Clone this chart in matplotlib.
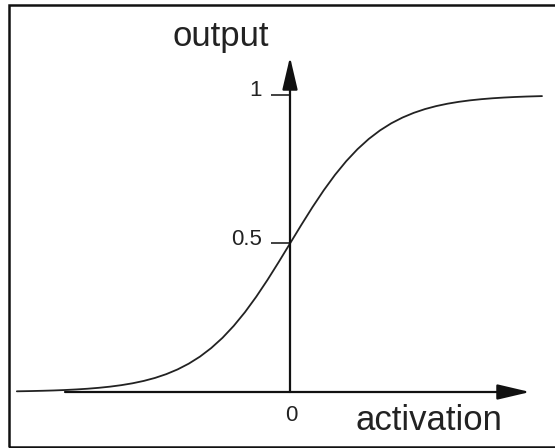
import matplotlib
matplotlib.use("Agg")
import matplotlib.pyplot as plt
from matplotlib.patches import Rectangle

# ---- data ----
activation = [-6.07, -5.75, -5.5, -5.25, -5.0, -4.75, -4.5, -4.25, -4.0, -3.75, -3.5, -3.25,
              -3.0, -2.75, -2.5, -2.25, -2.0, -1.75, -1.5, -1.25, -1.0, -0.75, -0.5, -0.25,
              0.0, 0.25, 0.5, 0.75, 1.0, 1.25, 1.5, 1.75, 2.0, 2.25, 2.5, 2.75,
              3.0, 3.25, 3.5, 3.75, 4.0, 4.25, 4.5, 4.75, 5.0, 5.25, 5.5, 5.6]
output = [0.0023, 0.0032, 0.0041, 0.0052, 0.0067, 0.0086, 0.0110, 0.0141, 0.0180, 0.0230,
          0.0293, 0.0373, 0.0474, 0.0601, 0.0759, 0.0954, 0.1192, 0.1481, 0.1824, 0.2227,
          0.2689, 0.3208, 0.3775, 0.4378, 0.5000, 0.5622, 0.6225, 0.6792, 0.7311, 0.7773,
          0.8176, 0.8520, 0.8808, 0.9047, 0.9241, 0.9399, 0.9526, 0.9627, 0.9707, 0.9770,
          0.9820, 0.9859, 0.9890, 0.9914, 0.9933, 0.9948, 0.9959, 0.9963]
y_ticks = [1, 0.5]
y_tick_labels = ["1", "0.5"]
x_tick_label = "0"
x_title = "activation"
y_title = "output"

# ---- layout ----
W, H = 555, 448
DPI = 100
X0_PX, Y0_PX = 290, 392   # pixel of origin
SX, SY = 45.0, 297.0      # pixels per unit

fig = plt.figure(figsize=(W / DPI, H / DPI), dpi=DPI)
ax = fig.add_axes([0, 0, 1, 1])
ax.set_xlim(-X0_PX / SX, (W - X0_PX) / SX)
ax.set_ylim((Y0_PX - H) / SY, Y0_PX / SY)
ax.axis("off")

plt.rcParams["font.family"] = ["Liberation Sans", "DejaVu Sans"]

def px2x(px):
    return (px - X0_PX) / SX

def px2y(py):
    return (Y0_PX - py) / SY

# border
fig.patches.append(Rectangle((9 / W, 1 / H), (W + 5 - 9) / W, (447 - 5) / H,
                             transform=fig.transFigure, fill=False,
                             edgecolor="#111111", linewidth=1.8))

# axes arrows
arrow_style = "-|>,head_length=20,head_width=4.7"
ax.annotate("", xy=(px2x(530), 0), xytext=(px2x(65), 0),
            arrowprops=dict(arrowstyle=arrow_style, lw=1.6, color="#111111",
                            shrinkA=0, shrinkB=0, mutation_scale=1))
ax.annotate("", xy=(0, px2y(57)), xytext=(0, 0),
            arrowprops=dict(arrowstyle=arrow_style, lw=1.6, color="#111111",
                            shrinkA=0, shrinkB=0, mutation_scale=1))

# ticks
for yv in y_ticks:
    ax.plot([px2x(271), 0], [yv, yv], color="#333333", lw=1.3, solid_capstyle="butt")

ax.text(px2x(262), px2y(96), y_tick_labels[0], ha="right", va="baseline", fontsize=16, color="#222222")
ax.text(px2x(262), 0.5 + 0.012, y_tick_labels[1], ha="right", va="center", fontsize=16, color="#222222")
ax.text(px2x(291), px2y(415), x_tick_label, ha="center", va="center", fontsize=16, color="#222222")

ax.text(px2x(221), px2y(46), y_title, ha="center", va="baseline", fontsize=25, color="#222222")
ax.text(px2x(429), px2y(430), x_title, ha="center", va="baseline", fontsize=25, color="#222222")

# sigmoid curve
ax.plot(activation, output, color="#222222", lw=1.3, solid_capstyle="round")

fig.savefig("out.png", dpi=DPI)
